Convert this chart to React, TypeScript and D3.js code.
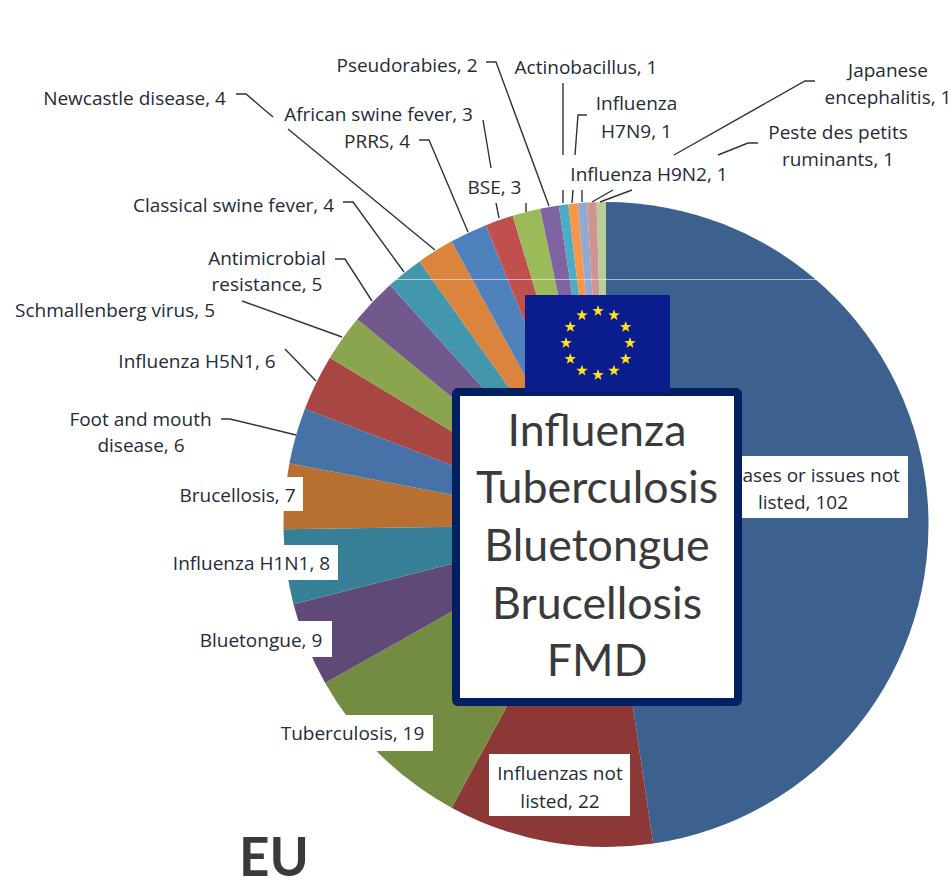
import React from "react";
import * as d3 from "d3";

const categories = [
  "Diseases or issues not listed", "Influenzas not listed", "Tuberculosis", "Bluetongue", "Influenza H1N1",
  "Brucellosis", "Foot and mouth disease", "Influenza H5N1", "Schmallenberg virus", "Antimicrobial resistance",
  "Classical swine fever", "Newcastle disease", "PRRS", "BSE", "African swine fever", "Pseudorabies",
  "Actinobacillus", "Influenza H7N9", "Influenza H9N2", "Japanese encephalitis", "Peste des petits ruminants",
];
const values = [102, 22, 19, 9, 8, 7, 6, 6, 5, 5, 4, 4, 4, 3, 3, 2, 1, 1, 1, 1, 1];
const colors = [
  "#3c618f", "#8c3836", "#748c42", "#5f4a77", "#377f96", "#b87032", "#4672a8", "#a84643", "#8aa54e", "#72598d",
  "#4297ad", "#db843d", "#4f81bd", "#c0504d", "#9bbb59", "#8064a2", "#4bacc6", "#f79646", "#93a9cf", "#d19392", "#b9cd96",
];
const focusDiseases = ["Influenza", "Tuberculosis", "Bluetongue", "Brucellosis", "FMD"];

type L = { t: string; x: number; y: number };
const labelText: L[] = [
  { t: "Diseases or issues not", x: 802, y: 481 },
  { t: "listed, 102", x: 803, y: 508 },
  { t: "Influenzas not", x: 560, y: 779 },
  { t: "listed, 22", x: 560, y: 807 },
  { t: "Tuberculosis, 19", x: 352.5, y: 739 },
  { t: "Bluetongue, 9", x: 261, y: 646 },
  { t: "Influenza H1N1, 8", x: 251.5, y: 569 },
  { t: "Brucellosis, 7", x: 237.5, y: 501 },
  { t: "Foot and mouth", x: 140.5, y: 425 },
  { t: "disease, 6", x: 141, y: 451 },
  { t: "Influenza H5N1, 6", x: 197, y: 367 },
  { t: "Schmallenberg virus, 5", x: 115, y: 316 },
  { t: "Antimicrobial", x: 267, y: 264 },
  { t: "resistance, 5", x: 267, y: 290 },
  { t: "Classical swine fever, 4", x: 233.5, y: 211 },
  { t: "Newcastle disease, 4", x: 134.5, y: 104 },
  { t: "PRRS, 4", x: 377, y: 147 },
  { t: "BSE, 3", x: 494.5, y: 193 },
  { t: "African swine fever, 3", x: 378.5, y: 120 },
  { t: "Pseudorabies, 2", x: 407, y: 71 },
  { t: "Actinobacillus, 1", x: 586, y: 73 },
  { t: "Influenza", x: 636.5, y: 109 },
  { t: "H7N9, 1", x: 636.5, y: 137 },
  { t: "Influenza H9N2, 1", x: 649, y: 180 },
  { t: "Japanese", x: 888, y: 76 },
  { t: "encephalitis, 1", x: 888, y: 103 },
  { t: "Peste des petits", x: 838, y: 138 },
  { t: "ruminants, 1", x: 838, y: 165 },
];

const labelBoxes = [
  [695, 456, 213, 62], [489, 754, 141, 62], [272, 715, 161, 36], [190, 621, 142, 36], [164, 545, 174, 35], [171, 477, 132, 34],
];

const leaders: [number, number][][] = [
  [[236, 94], [246, 94], [273, 117]], [[288, 129], [435, 250]],
  [[419, 140], [429, 140], [468, 232]],
  [[343, 202], [353, 202], [404, 272]],
  [[335, 259], [345, 259], [372, 301]],
  [[242, 301], [342, 337]],
  [[285, 349], [316, 381]],
  [[221, 419], [230, 419], [296, 435]],
  [[486, 62], [496, 62], [549, 206]],
  [[483, 120], [491, 168]], [[526, 203], [526, 212]],
  [[496, 203], [499, 218]],
  [[563, 83], [563, 155]], [[563, 190], [563, 203]],
  [[587, 115], [578, 115], [575, 155]], [[573, 190], [572, 203]],
  [[582, 190], [582, 202]],
  [[815, 81], [805, 81], [674, 155]], [[613, 190], [592, 202]],
  [[758, 143], [748, 143], [718, 155]], [[632, 190], [600, 202]],
];

const focusBaselines = [446, 503, 561, 619, 676];

const CX = 606, CY = 524.5, R = 322.5;
const labelFont = "'Open Sans', sans-serif";
const bigFont = "Lato, sans-serif";

function starPath(cx: number, cy: number, r: number) {
  const pts: [number, number][] = d3.range(10).map((i) => {
    const a = (i * Math.PI) / 5 - Math.PI / 2;
    const rr = i % 2 ? r * 0.4 : r;
    return [cx + rr * Math.cos(a), cy + rr * Math.sin(a)];
  });
  return (d3.line()(pts) as string) + "Z";
}

export default function App() {
  const pie = d3.pie<number>().sort(null).value((d) => d)(values);
  const arc = d3.arc<d3.PieArcDatum<number>>().innerRadius(0).outerRadius(R);
  const line = d3.line();
  const stars = d3.range(12).map((i) => {
    const a = (i * Math.PI) / 6;
    return starPath(598 + 32 * Math.sin(a), 343 - 32 * Math.cos(a), 6);
  });
  return (
    <svg width={951} height={881} viewBox="0 0 951 881" style={{ position: "absolute", left: 0, top: 0, background: "#fff" }}>
      <g transform={`translate(${CX},${CY})`}>
        {pie.map((d, i) => (
          <path key={categories[i]} d={arc(d) as string} fill={colors[i]} />
        ))}
      </g>
      <line x1={380} x2={830} y1={279.5} y2={279.5} stroke="#fff" strokeOpacity={0.55} strokeWidth={1} />
      {leaders.map((pts, i) => (
        <path key={i} d={line(pts) as string} fill="none" stroke="#333" strokeWidth={1.4} />
      ))}
      {labelBoxes.map(([x, y, w, h], i) => (
        <rect key={i} x={x} y={y} width={w} height={h} fill="#fff" />
      ))}
      {labelText.map((l, i) => (
        <text key={i} x={l.x} y={l.y + 1} textAnchor="middle" fontFamily={labelFont} fontSize={19} fill="#252b38">
          {l.t}
        </text>
      ))}
      <rect x={456} y={392} width={282} height={310} rx={2} fill="#fff" stroke="#002060" strokeWidth={8} />
      <rect x={525} y={295} width={145} height={97} fill="#0b1c8c" />
      {stars.map((s, i) => (
        <path key={i} d={s} fill="#ffe21a" />
      ))}
      {focusDiseases.map((t, i) => (
        <text key={t} x={597} y={focusBaselines[i]} textAnchor="middle" fontFamily={bigFont} fontSize={44.7} fill="#3a3a3a">
          {t}
        </text>
      ))}
      <text x={239} y={876} fontFamily={bigFont} fontWeight={700} fontSize={53} fill="#3a3a3a">EU</text>
    </svg>
  );
}
